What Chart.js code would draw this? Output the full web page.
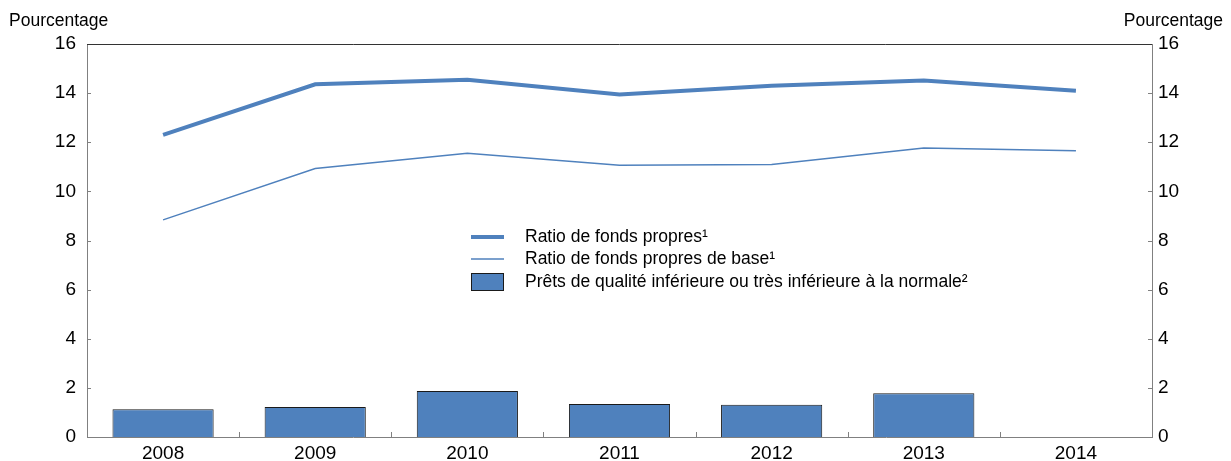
<!DOCTYPE html>
<html>
<head>
<meta charset="utf-8">
<script src="https://cdn.jsdelivr.net/npm/chart.js@4"></script>
<style>
  body { margin: 0; background: #fff; }
</style>
</head>
<body>
<canvas id="graf" width="1231" height="461"></canvas>
<script>
// Donnees
const annees = ['2008', '2009', '2010', '2011', '2012', '2013', '2014'];
const ratioFondsPropres = [12.3, 14.36, 14.54, 13.94, 14.3, 14.51, 14.1];
const ratioFondsBase = [8.84, 10.93, 11.55, 11.06, 11.09, 11.77, 11.65];
const pretsQualiteInf = [1.13, 1.22, 1.87, 1.34, 1.31, 1.78, null];
const noms = [
    'Ratio de fonds propres¹',
    'Ratio de fonds propres de base¹',
    'Prêts de qualité inférieure ou très inférieure à la normale²'
];
const ticksY = [0, 2, 4, 6, 8, 10, 12, 14, 16];

const bleu = '#4f81bd';
const police = 'Liberation Sans, Arial, sans-serif';

// petits traits vers l'interieur, titres d'axe, cadre du haut et legende
const decorPlugin = {
    id: 'decor',
    afterDraw(chart) {
        const ctx = chart.ctx;
        const a = chart.chartArea;
        const x = chart.scales.x;
        const y = chart.scales.y;
        ctx.save();
        ctx.strokeStyle = '#808080';
        ctx.lineWidth = 1;
        ctx.beginPath();
        ticksY.forEach(v => {
            const py = Math.round(y.getPixelForValue(v)) + 0.5;
            ctx.moveTo(a.left, py); ctx.lineTo(a.left + 4, py);
            ctx.moveTo(a.right - 4, py); ctx.lineTo(a.right, py);
        });
        for (let i = 0; i < annees.length - 1; i++) {
            const px = Math.round((x.getPixelForValue(i) + x.getPixelForValue(i + 1)) / 2) + 0.5;
            ctx.moveTo(px, a.bottom); ctx.lineTo(px, a.bottom - 5);
        }
        ctx.stroke();

        // cadre du haut
        ctx.strokeStyle = '#333';
        ctx.beginPath();
        ctx.moveTo(a.left, Math.round(a.top) + 0.5);
        ctx.lineTo(a.right, Math.round(a.top) + 0.5);
        ctx.stroke();

        // titres
        ctx.fillStyle = '#000';
        ctx.font = '17.5px ' + police;
        ctx.textBaseline = 'alphabetic';
        ctx.textAlign = 'left';
        ctx.fillText('Pourcentage', 9, 26);
        ctx.textAlign = 'right';
        ctx.fillText('Pourcentage', 1223, 26);

        // legende
        const lx = 471, ly = [237, 259, 282];
        const ds = chart.data.datasets;
        ctx.font = '17.5px ' + police;
        ctx.textAlign = 'left';
        ctx.textBaseline = 'middle';
        ctx.lineCap = 'butt';
        ctx.strokeStyle = ds[0].borderColor;
        ctx.lineWidth = ds[0].borderWidth;
        ctx.beginPath(); ctx.moveTo(lx, ly[0]); ctx.lineTo(lx + 33, ly[0]); ctx.stroke();
        ctx.strokeStyle = ds[1].borderColor;
        ctx.lineWidth = ds[1].borderWidth;
        ctx.beginPath(); ctx.moveTo(lx, ly[1]); ctx.lineTo(lx + 33, ly[1]); ctx.stroke();
        ctx.fillStyle = ds[2].backgroundColor;
        ctx.fillRect(lx, ly[2] - 9, 33, 18);
        ctx.strokeStyle = '#1a1a1a';
        ctx.lineWidth = 1;
        ctx.strokeRect(lx + 0.5, ly[2] - 8.5, 32, 17);
        ctx.fillStyle = '#000';
        noms.forEach((n, i) => ctx.fillText(n, lx + 54, ly[i]));
        ctx.restore();
    }
};

const data_graf = {
    labels: annees,
    datasets: [
        {
            type: 'line',
            label: noms[0],
            data: ratioFondsPropres,
            borderColor: bleu,
            borderWidth: 4,
            pointRadius: 0,
            tension: 0,
            yAxisID: 'y',
            order: 1
        }, {
            type: 'line',
            label: noms[1],
            data: ratioFondsBase,
            borderColor: bleu,
            borderWidth: 1.5,
            pointRadius: 0,
            tension: 0,
            yAxisID: 'y',
            order: 1
        }, {
            type: 'bar',
            label: noms[2],
            data: pretsQualiteInf,
            backgroundColor: bleu,
            borderColor: '#1a1a1a',
            borderWidth: 1,
            categoryPercentage: 1,
            barPercentage: 0.665,
            yAxisID: 'y',
            order: 2
        }
    ]
};

const axeY = (pos, largeur, pad) => ({
    position: pos,
    min: 0,
    max: 16,
    afterBuildTicks: s => { s.ticks = ticksY.map(v => ({ value: v })); },
    afterFit: s => { s.width = largeur; },
    ticks: { color: '#000', font: { family: police, size: 19 }, padding: pad },
    grid: { display: false, drawTicks: false },
    border: { display: true, color: '#808080', width: 1 }
});

const grafConfig = {
    type: 'bar',
    data: data_graf,
    options: {
        responsive: false,
        animation: false,
        layout: { padding: { top: 44, left: 0, right: 0, bottom: 0 } },
        scales: {
            x: {
                offset: true,
                afterFit: s => { s.height = 24; },
                ticks: { color: '#000', font: { family: police, size: 19 }, padding: 5, maxRotation: 0 },
                grid: { display: false, drawTicks: false },
                border: { display: true, color: '#808080', width: 1 }
            },
            y: axeY('left', 87, 11),
            y2: axeY('right', 79, 6)
        },
        plugins: {
            legend: { display: false },
            tooltip: { enabled: false }
        }
    },
    plugins: [decorPlugin]
};

const graf = new Chart(document.getElementById('graf'), grafConfig);
</script>
</body>
</html>
